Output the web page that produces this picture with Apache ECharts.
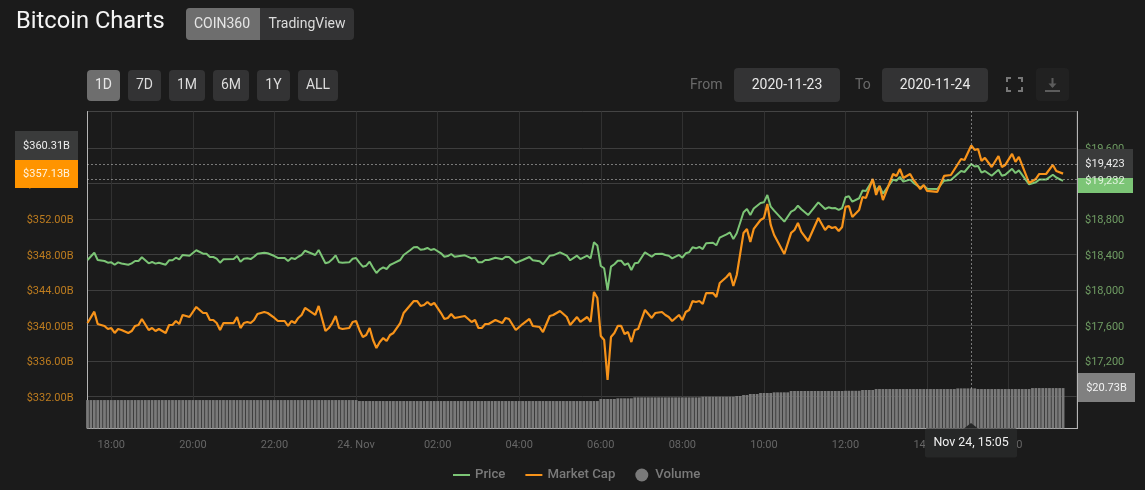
<!DOCTYPE html>
<html><head><meta charset="utf-8">
<style>html,body{margin:0;padding:0;background:#1b1b1b}#c{width:1145px;height:490px}</style>
<script src="https://cdn.jsdelivr.net/npm/echarts@6/dist/echarts.min.js"></script>
</head><body><div id="c"></div>
<script>
// minutes after 2020-11-23 17:25 for each vertex
const minutes = [0,2,3,5,6,7,8,9,10,12,13,14,15,16,18,19,20,21,23,24,25,26,27,28,30,32,34,35,36,37,38,39,40,43,44,45,46,47,48,49,50,52,53,55,56,58,59,60,61,62,63,64,67,68,70,71,72,73,74,75,77,78,79,80,81,82,83,84,85,86,87,88,89,90,92,93,95,96,97,98,99,100,101,102,104,105,106,107,108,111,113,114,115,116,117,118,120,122,123,124,126,128,130,131,133,134,136,137,139,141,142,144,145,147,148,149,150,151,152,153,154,155,156,157,158,159,160,161,162,164,166,167,169,170,171,172,174,175,176,177,178,179,180,181,182,184,185,186,188,189,190,191,193,194,195,196,198,199,200,201,202,205,207,208,209,210,212,215,217,218,219,220,221,222,223,224,225,227,228,229,231,232,233,234,237,238,239,240,242,243,245,246,247,250,252,254,257,258,260,261,262,263,264,266,268,269,270,272,273,274,277,279,280,282,284,285,287].map(k => k * 5);
const marketCap = [340.30,341.58,340.19,339.97,339.63,339.74,339.18,339.63,339.52,339.18,339.40,339.97,340.08,340.76,339.52,339.74,339.40,339.63,339.18,340.08,340.08,340.53,340.19,341.21,340.98,342.11,341.43,341.43,340.64,340.64,340.30,339.52,340.30,340.30,340.98,339.74,340.30,340.42,340.30,340.64,341.32,341.54,341.43,340.87,340.53,340.53,339.97,340.53,340.30,340.87,341.21,342.00,341.21,342.22,339.40,339.74,340.30,341.09,339.74,339.63,339.74,340.42,340.53,339.52,338.73,338.95,339.74,338.39,337.49,338.16,338.61,338.28,338.95,339.18,340.30,341.43,342.33,342.78,342.78,342.22,342.33,342.67,342.33,342.56,341.43,340.76,340.87,341.32,340.87,341.09,340.42,340.64,339.74,339.74,340.19,340.19,340.64,340.30,340.87,340.76,339.52,340.19,340.76,339.97,339.85,339.29,341.09,341.21,341.66,340.98,340.08,340.98,340.42,340.98,340.42,343.80,343.12,338.84,338.39,333.88,338.73,339.18,339.97,339.97,339.07,339.29,338.16,339.52,339.63,341.77,340.87,341.43,341.54,341.21,340.98,340.53,341.21,340.64,341.54,341.77,342.78,342.67,342.78,342.45,343.68,343.68,343.23,344.81,345.49,345.94,344.47,345.71,350.45,350.90,349.43,350.90,351.91,352.14,353.71,351.35,350.22,348.08,350.45,350.78,351.57,350.56,349.54,352.14,350.78,351.23,351.01,351.12,350.67,351.12,353.38,353.49,352.25,353.04,354.50,354.39,356.53,354.73,355.74,354.16,357.09,356.87,357.66,356.64,357.09,356.42,355.40,355.85,355.18,355.07,356.87,356.98,358.78,358.67,360.31,359.80,359.91,358.56,358.90,357.88,359.12,357.88,358.11,359.35,358.45,359.01,356.08,356.53,357.09,357.09,358.11,357.43,357.13];
const price = [18340,18422,18340,18329,18310,18314,18287,18314,18301,18287,18303,18329,18329,18371,18303,18318,18299,18310,18287,18337,18337,18366,18348,18397,18389,18450,18411,18411,18374,18374,18355,18310,18348,18351,18385,18321,18355,18359,18351,18377,18411,18423,18416,18385,18363,18363,18329,18363,18351,18377,18397,18445,18397,18453,18303,18314,18348,18393,18314,18310,18314,18355,18363,18310,18265,18276,18321,18253,18194,18235,18258,18239,18284,18303,18340,18397,18453,18483,18487,18456,18461,18476,18453,18464,18416,18377,18385,18408,18377,18393,18359,18366,18314,18314,18340,18340,18366,18348,18377,18374,18307,18340,18374,18337,18326,18292,18389,18393,18427,18389,18337,18389,18351,18389,18359,18540,18504,18273,18247,17999,18265,18292,18332,18332,18284,18303,18228,18303,18310,18427,18377,18408,18411,18397,18389,18359,18397,18366,18416,18427,18483,18472,18487,18464,18528,18535,18506,18592,18630,18652,18577,18641,18878,18915,18847,18921,18983,18990,19073,18941,18896,18772,18885,18904,18952,18912,18847,18990,18915,18934,18923,18926,18904,18926,19047,19059,18997,19036,19123,19118,19242,19123,19174,19088,19246,19234,19277,19223,19246,19210,19155,19180,19143,19140,19234,19242,19343,19332,19423,19393,19400,19325,19343,19289,19356,19289,19301,19368,19320,19350,19192,19216,19246,19246,19301,19270,19232];
// volume in $B: level and how many consecutive 5-minute bars stay at it
const volumeLevels = [14.7,14.2,15.25,15.6,16.1,16.45,16.8,17.3,17.85,18.35,18.7,19.4,19.5,19.9,20.4,20.73,20.4,20.9];
const volumeRuns   = [80,71,5,5,20,10,2,2,3,4,5,16,5,4,24,6,16,10];
const capTicks = [332,336,340,344,348,352,356,360];
const priceTicks = [17200,17600,18000,18400,18800,19200,19600];
const timeTicks = [35,155,275,395,515,635,755,875,995,1115,1235,1355];
const timeLabels = ['18:00','20:00','22:00','24. Nov','02:00','04:00','06:00','08:00','10:00','12:00','14:00','16:00'];
const rangeButtons = ['1D','7D','1M','6M','1Y','ALL'];

const capData = minutes.map((m,i) => [m, marketCap[i]]);
const priceData = minutes.map((m,i) => [m, price[i]]);
const volData = [];
volumeLevels.forEach((v,i) => { for (let n=0;n<volumeRuns[i];n++) volData.push([volData.length*5, v]); });
const crossT = 1300;

const F = 'Roboto';
const BG = '#1b1b1b', ACTIVE = '#6e6e6e', BTN = '#333334';
const box = (x,y,w,h,fill,r=4,z=20) => ({type:'rect',z,silent:true,shape:{x,y,width:w,height:h,r},style:{fill}});
const txt = (x,y,s,fill,size=14,align='center',extra={},z=21) => ({type:'text',z,silent:true,x,y,style:Object.assign({text:s,fill,font:`${size}px ${F}`,align,verticalAlign:'middle'},extra)});
const line = (pts,stroke,w=2) => ({type:'polyline',z:21,silent:true,shape:{points:pts},style:{stroke,lineWidth:w,fill:null}});

const btnX = [[87,33],[128,33],[169,36],[213,36],[257,33],[298,40]];
const g = [
  txt(16,22,'Bitcoin Charts','#f4f4f4',23.7,'left'),
  box(186,8,168,32,BTN), box(186,8,74,32,ACTIVE,[4,0,0,4]),
  txt(222,24.5,'COIN360','#e6e6e6'), txt(307,24.5,'TradingView','#dcdcdc'),
  txt(690,85,'From','#6a6a6a',14,'left'), box(734,68,106,34,BTN), txt(787,85.5,'2020-11-23','#e8e8e8'),
  txt(855,85,'To','#6a6a6a',14,'left'), box(882,68,106,34,BTN), txt(935,85.5,'2020-11-24','#e8e8e8'),
  line([[1007,82],[1007,78],[1011,78]],'#777'), line([[1018,78],[1022,78],[1022,82]],'#777'),
  line([[1007,87],[1007,91],[1011,91]],'#777'), line([[1018,91],[1022,91],[1022,87]],'#777'),
  box(1036,68,33,33,'#212121'),
  line([[1045,91],[1060,91]],'#5c5c5c'), line([[1052.5,78],[1052.5,87]],'#5c5c5c'),
  {type:'polygon',z:21,silent:true,shape:{points:[[1048.5,83.5],[1056.5,83.5],[1052.5,88]]},style:{fill:'#5c5c5c'}},
  box(15,131,63,29,'#3a3b3b',0), txt(46.5,146,'$360.31B','#ededed',11),
  box(15,160,63,28,'#ff9400',0), txt(46.5,174,'$357.13B','#fff3df',11),
  box(1078,168,55,25,'#7cc576',0), txt(1105,181,'$19,232','#e2f3df',11),
  box(1078,149,55,29,'#3a3b3b',0), txt(1105,164,'$19,423','#ededed',11),
  box(1078,373,57,29,'#808080',0), txt(1106.5,388,'$20.73B','#f2f2f2',11),
  box(925,428.5,92,29,'#262727',2),
  {type:'polygon',z:20,silent:true,shape:{points:[[971,423],[964,428.5],[978,428.5]]},style:{fill:'#262727'}},
  txt(971,443,'Nov 24, 15:05','#f0f0f0',12.4)
];
rangeButtons.forEach((s,i) => {
  g.push(box(btnX[i][0],70,btnX[i][1],31,i===0?ACTIVE:BTN));
  g.push(txt(btnX[i][0]+btnX[i][1]/2,85.5,s,i===0?'#e6e6e6':'#dcdcdc'));
});
const lineIcon = 'path://M0 0h0.01v0.01zM0 5.5H17V7.5H0ZM17 13h-0.01v-0.01z';

const chart = echarts.init(document.getElementById('c'),null,{renderer:'canvas'});
chart.setOption({
  animation:false, backgroundColor:BG,
  textStyle:{fontFamily:F},
  grid:{left:87.5,right:1145-1077,top:111.5,height:317,show:true,borderColor:'#444',borderWidth:1,backgroundColor:'transparent',containLabel:false},
  legend:{left:453,top:468.5,padding:0,itemWidth:17,itemHeight:13,itemGap:20,
    textStyle:{color:'#7a7a7a',fontSize:13.2,fontWeight:500,fontFamily:F},
    data:[{name:'Price',icon:lineIcon},{name:'Market Cap',icon:lineIcon},{name:'Volume',icon:'circle'}]},
  xAxis:{type:'value',min:0,max:1455.5,
    axisLine:{show:true,onZero:false,lineStyle:{color:'#b5b5b5',width:1}},
    axisTick:{show:false,customValues:timeTicks},
    splitLine:{show:true,lineStyle:{color:'#313131',width:1}},
    axisLabel:{customValues:timeTicks,margin:11,color:'#666',fontSize:11,fontFamily:F,hideOverlap:false,
      formatter:v=>timeLabels[timeTicks.indexOf(v)]}
  },
  yAxis:[
    {type:'value',position:'left',min:328.42,max:364.13,
     axisLine:{show:true,onZero:false,lineStyle:{color:'#b5b5b5',width:1}},axisTick:{show:false,customValues:capTicks},
     splitLine:{show:true,lineStyle:{color:'#3e3e3e',width:1}},
     axisLabel:{customValues:capTicks,margin:14,verticalAlign:'top',lineHeight:3,color:'#bd7c1f',fontSize:11,fontFamily:F,formatter:v=>'$'+v.toFixed(2)+'B'}},
    {type:'value',position:'right',min:16441.6,max:20013.6,
     axisLine:{show:true,onZero:false,lineStyle:{color:'#b5b5b5',width:1}},axisTick:{show:false,customValues:priceTicks},
     splitLine:{show:false},
     axisLabel:{customValues:priceTicks,margin:8,verticalAlign:'top',lineHeight:3,color:'#6f9c63',fontSize:11,fontFamily:F,formatter:v=>'$'+v.toLocaleString('en-US')}},
    {type:'value',position:'right',min:0,max:163.9,show:false,splitLine:{show:false}}
  ],
  series:[
    {name:'Price',type:'line',yAxisIndex:1,data:priceData,symbol:'none',z:3,
     lineStyle:{color:'#7cc576',width:2},itemStyle:{color:'#7cc576'},
     markLine:{silent:true,symbol:'none',label:{show:false},lineStyle:{color:'#d8d8d8',type:[1,3],width:1},
       data:[{yAxis:19423},{yAxis:19250}]}},
    {name:'Market Cap',type:'line',yAxisIndex:0,data:capData,symbol:'none',z:4,
     lineStyle:{color:'#f7931a',width:2.2},itemStyle:{color:'#f7931a'},
     markLine:{silent:true,symbol:'none',label:{show:false},lineStyle:{color:'#d8d8d8',type:[1,3],width:1},
       data:[[{coord:[crossT,364.13]},{coord:[crossT,332.9]}]]}},
    {name:'Volume',type:'bar',yAxisIndex:2,data:volData,barWidth:2.8,z:2,itemStyle:{color:'#7a7a7a'}}
  ],
  graphic:{elements:g}
});
</script></body></html>
